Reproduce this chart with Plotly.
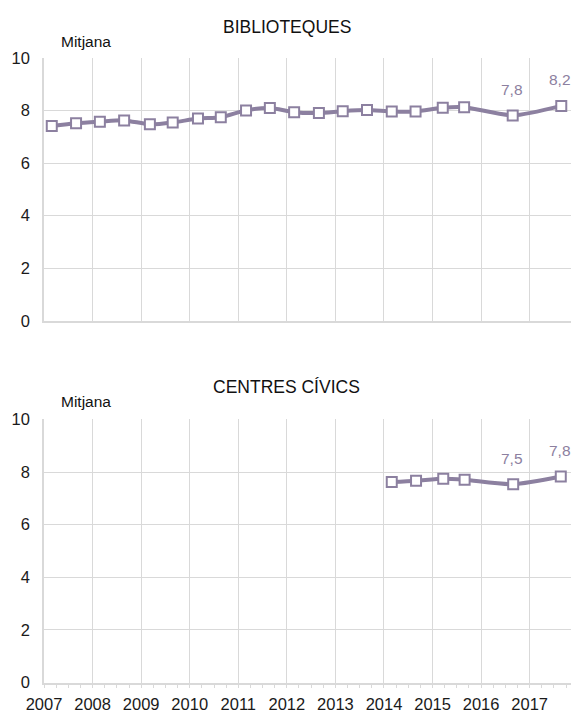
import plotly.graph_objects as go

# ---- data ----
bib_x = [2007.16, 2007.66, 2008.15, 2008.65, 2009.18, 2009.65, 2010.17, 2010.64,
         2011.16, 2011.65, 2012.15, 2012.66, 2013.15, 2013.65, 2014.16, 2014.65,
         2015.21, 2015.65, 2016.65, 2017.65]
bib_y = [7.41, 7.51, 7.57, 7.62, 7.47, 7.54, 7.69, 7.74, 8.00, 8.09,
         7.93, 7.90, 7.97, 8.01, 7.96, 7.96, 8.10, 8.12, 7.81, 8.17]

cc_x = [2014.16, 2014.66, 2015.22, 2015.66, 2016.66, 2017.64]
cc_y = [7.62, 7.67, 7.75, 7.71, 7.54, 7.83]

year_ticks = list(range(2007, 2018))
y_ticks = [0, 2, 4, 6, 8, 10]
titles = ["BIBLIOTEQUES", "CENTRES CÍVICS"]
y_label = "Mitjana"

# ---- style ----
W, H = 571, 716
L = 44
COL = "rgb(140,128,160)"
GRID = "#d9d9d9"
FONT = "Liberation Sans, Arial, sans-serif"
xr = [2007, 2007 + (W - L) / 48.57]

def pf(px):  # pixel from top -> paper y
    return (H - px) / H

fig = go.Figure()

series = [(bib_x, bib_y, "x", "y"), (cc_x, cc_y, "x2", "y2")]
for xs, ys, xa, ya in series:
    fig.add_trace(go.Scatter(
        x=xs, y=ys, xaxis=xa, yaxis=ya, mode="lines+markers",
        line=dict(color=COL, width=4, shape="spline", smoothing=0.7),
        marker=dict(symbol="square", size=10, color="white",
                    line=dict(color=COL, width=2)),
        showlegend=False, hoverinfo="x+y"))
    for xv, yv in zip(xs[-2:], ys[-2:]):
        fig.add_annotation(x=xv, y=yv, xref=xa, yref=ya,
                           text=f"{yv:.1f}".replace(".", ","),
                           showarrow=False, yshift=26, xshift=-1,
                           font=dict(family=FONT, size=15.5, color=COL))

axis_common = dict(range=xr, tickmode="array", tickvals=year_ticks,
                   showgrid=True, gridcolor=GRID, gridwidth=1.4,
                   zeroline=False, showline=True, linecolor=GRID, linewidth=1.5,
                   fixedrange=True)
yaxis_common = dict(range=[0, 10], tickvals=y_ticks, showgrid=True,
                    gridcolor=GRID, gridwidth=1.2, zeroline=False,
                    showline=True, linecolor=GRID, linewidth=1.5,
                    ticks="", ticklabelstandoff=9, fixedrange=True,
                    tickfont=dict(family=FONT, size=16.5, color="#1a1a1a"))

fig.update_layout(
    width=W, height=H,
    margin=dict(l=L, r=0, t=0, b=0),
    paper_bgcolor="white", plot_bgcolor="white",
    font=dict(family=FONT, size=16, color="#1a1a1a"),
    xaxis=dict(**axis_common, domain=[0, 1], anchor="y", showticklabels=False),
    yaxis=dict(**yaxis_common, domain=[pf(320), pf(50)], anchor="x"),
    xaxis2=dict(**axis_common, domain=[0, 1], anchor="y2", showticklabels=True,
                ticks="outside", ticklen=4, tickcolor=GRID, tickformat="d",
                ticklabelstandoff=2,
                tickfont=dict(family=FONT, size=16.5, color="#1a1a1a"),
                minor=dict(dtick=0.25, ticks="outside", ticklen=4, tickcolor=GRID,
                           showgrid=False)),
    yaxis2=dict(**yaxis_common, domain=[pf(691), pf(421)], anchor="x2"),
)

# titles and axis labels
for title, ty, my, xa in [(titles[0], 18.5, 33, "x"), (titles[1], 388, 403, "x2")]:
    fig.add_annotation(x=2012, y=pf(ty), xref=xa, yref="paper", text=title,
                       showarrow=False, xanchor="center", yanchor="middle",
                       font=dict(family=FONT, size=17.5, color="#111111"))
    fig.add_annotation(x=(59 - L) / (W - L), y=pf(my), xref="paper", yref="paper",
                       text=y_label, showarrow=False, xanchor="left", yanchor="middle",
                       font=dict(family=FONT, size=15.5, color="#111111"))

fig.write_html("out.html",
               config={"displayModeBar": False},
               post_script="document.body.style.margin='0';"
                           "document.documentElement.style.overflow='hidden';")
